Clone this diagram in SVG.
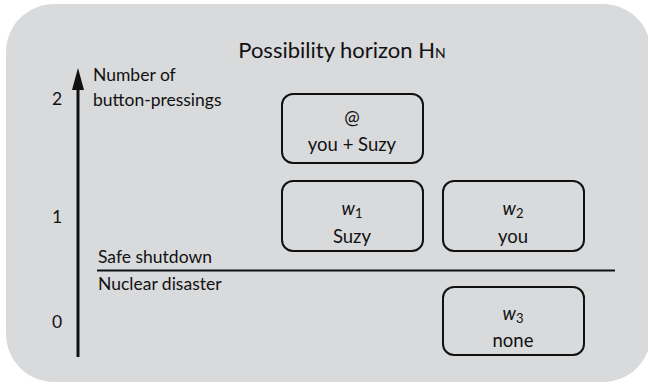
<svg xmlns="http://www.w3.org/2000/svg" width="648" height="383" viewBox="0 0 648 383">
<style>
text{font-family:Lato,"Open Sans","Liberation Sans",sans-serif;fill:#111;}
.lbl{font-size:17.5px;}
.box{fill:none;stroke:#111;stroke-width:2;}
.c{text-anchor:middle;font-size:18.5px;}
.sub{font-size:13px;}
</style>
<rect x="6" y="4" width="645" height="378" rx="48" fill="#d9dadc"/>
<text x="342" y="58" style="font-size:22px" text-anchor="middle">Possibility horizon H<tspan style="font-size:14px">N</tspan></text>
<g id="axis">
<line x1="78" y1="357" x2="78" y2="86" stroke="#111" stroke-width="3"/>
<path d="M78,68 L84,90 L72,90 Z" fill="#111"/>
<text class="lbl" x="93" y="81">Number of</text>
<text class="lbl" x="93" y="106">button-pressings</text>
<text class="lbl" x="52" y="105">2</text>
<text class="lbl" x="52" y="223">1</text>
<text class="lbl" x="52" y="328">0</text>
</g>
<g id="divider">
<line x1="97" y1="270.5" x2="615" y2="270.5" stroke="#111" stroke-width="2"/>
<text class="lbl" x="98" y="263">Safe shutdown</text>
<text class="lbl" x="98" y="290">Nuclear disaster</text>
</g>
<g id="at">
<rect class="box" x="282" y="94" width="141" height="69" rx="11"/>
<text class="c" x="352" y="124">@</text>
<text class="c" x="352" y="151">you + Suzy</text>
</g>
<g id="w1">
<rect class="box" x="282" y="181" width="141" height="70" rx="11"/>
<text class="c" x="352" y="215"><tspan font-style="italic">w</tspan><tspan class="sub" dy="3">1</tspan></text>
<text class="c" x="352" y="243">Suzy</text>
</g>
<g id="w2">
<rect class="box" x="443" y="181" width="141" height="70" rx="11"/>
<text class="c" x="513" y="215"><tspan font-style="italic">w</tspan><tspan class="sub" dy="3">2</tspan></text>
<text class="c" x="513" y="243">you</text>
</g>
<g id="w3">
<rect class="box" x="443" y="287" width="141" height="68" rx="11"/>
<text class="c" x="513" y="320"><tspan font-style="italic">w</tspan><tspan class="sub" dy="3">3</tspan></text>
<text class="c" x="513" y="347">none</text>
</g>
</svg>
